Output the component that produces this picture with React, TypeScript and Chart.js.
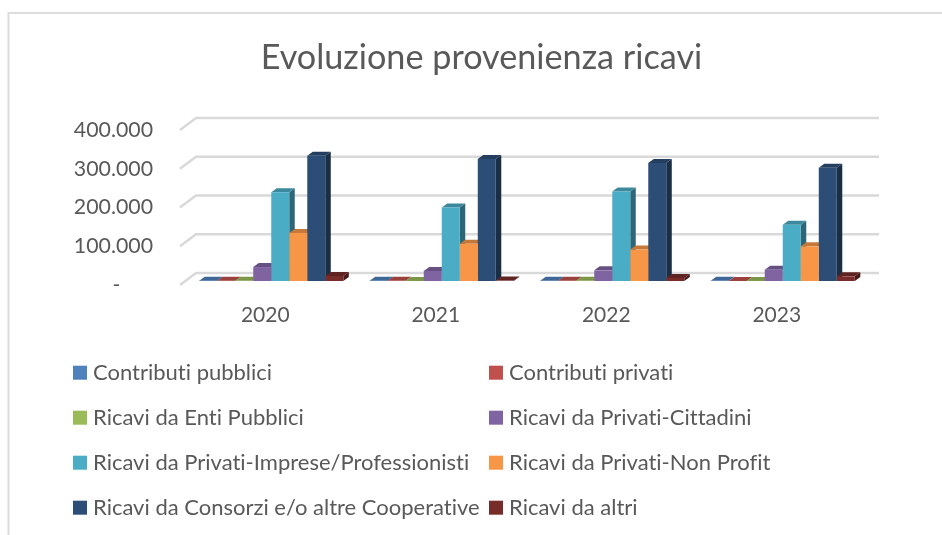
import React, { useEffect, useRef } from "react";
import { Chart, registerables } from "chart.js";

Chart.register(...registerables);

const years = ["2020", "2021", "2022", "2023"];
const contributiPubblici = [800, 800, 600, 500];
const contributiPrivati = [500, 400, 400, 300];
const entiPubblici = [400, 300, 400, 300];
const privatiCittadini = [36000, 26000, 27500, 29000];
const privatiImprese = [229000, 190000, 231000, 145500];
const privatiNonProfit = [124000, 96000, 81000, 89500];
const consorzi = [323000, 315000, 304500, 292500];
const altri = [13000, 1000, 8000, 12000];

const seriesNames = [
  "Contributi pubblici",
  "Contributi privati",
  "Ricavi da Enti Pubblici",
  "Ricavi da Privati-Cittadini",
  "Ricavi da Privati-Imprese/Professionisti",
  "Ricavi da Privati-Non Profit",
  "Ricavi da Consorzi e/o altre Cooperative",
  "Ricavi da altri",
];
const seriesValues = [
  contributiPubblici,
  contributiPrivati,
  entiPubblici,
  privatiCittadini,
  privatiImprese,
  privatiNonProfit,
  consorzi,
  altri,
];
const frontColors = ["#4f81bd", "#c0504d", "#9bbb59", "#8064a2", "#4bacc6", "#f79646", "#2c4d75", "#772c2a"];
const topColors = ["#3f6797", "#9a403d", "#7c9647", "#665082", "#3c899e", "#c67838", "#233e5e", "#5f2322"];
const sideColors = ["#2f4d71", "#73302e", "#5d7035", "#4d3c61", "#2d6777", "#945a2a", "#1a2e46", "#471a19"];

const FONT = "Lato, 'Open Sans', sans-serif";
const TEXT = "#595959";
const GRID = "#d9d9d9";
const BAR_SHIFT_X = 6;
const BAR_SHIFT_Y = -4;
const DEPTH_X = 5.5;
const DEPTH_Y = 4;
const WALL_X = 16;
const WALL_Y = 12;

const frame3d = {
  id: "frame3d",
  beforeDraw(chart: any) {
    const { ctx, chartArea: a, scales } = chart;
    ctx.save();
    ctx.strokeStyle = "#dcdcdc";
    ctx.lineWidth = 2;
    ctx.beginPath();
    ctx.moveTo(8.5, 535);
    ctx.lineTo(8.5, 13);
    ctx.lineTo(942, 13);
    ctx.stroke();
    ctx.strokeStyle = GRID;
    ctx.lineWidth = 2.5;
    for (const t of scales.y.ticks) {
      const y = scales.y.getPixelForValue(t.value);
      ctx.beginPath();
      ctx.moveTo(a.left, y);
      ctx.lineTo(a.left + WALL_X, y - WALL_Y);
      ctx.lineTo(a.right + WALL_X + 1, y - WALL_Y);
      ctx.stroke();
    }
    ctx.restore();
  },
  beforeDatasetsDraw(chart: any) {
    const { ctx } = chart;
    ctx.save();
    ctx.translate(BAR_SHIFT_X, BAR_SHIFT_Y);
    const count = chart.data.labels.length;
    for (let i = 0; i < count; i++) {
      chart.data.datasets.forEach((_: any, d: number) => {
        const bar = chart.getDatasetMeta(d).data[i];
        const l = bar.x - bar.width / 2;
        const r = bar.x + bar.width / 2;
        const top = bar.y;
        const base = bar.base;
        ctx.fillStyle = sideColors[d];
        ctx.beginPath();
        ctx.moveTo(r, top);
        ctx.lineTo(r + DEPTH_X, top - DEPTH_Y);
        ctx.lineTo(r + DEPTH_X, base - DEPTH_Y);
        ctx.lineTo(r, base);
        ctx.closePath();
        ctx.fill();
        ctx.fillStyle = topColors[d];
        ctx.beginPath();
        ctx.moveTo(l, top);
        ctx.lineTo(l + DEPTH_X, top - DEPTH_Y);
        ctx.lineTo(r + DEPTH_X, top - DEPTH_Y);
        ctx.lineTo(r, top);
        ctx.closePath();
        ctx.fill();
      });
    }
  },
  afterDatasetsDraw(chart: any) {
    chart.ctx.restore();
  },
  afterLayout(chart: any) {
    if (chart.titleBlock) {
      chart.titleBlock.left = 21;
      chart.titleBlock.right = 942;
    }
  },
  afterDraw(chart: any) {
    const { ctx } = chart;
    ctx.save();
    ctx.font = `22px ${FONT}`;
    ctx.textRendering = "optimizeSpeed";
    ctx.textBaseline = "middle";
    ctx.textAlign = "left";
    chart.data.datasets.forEach((ds: any, d: number) => {
      const col = d % 2;
      const row = Math.floor(d / 2);
      const x = col === 0 ? 73 : 489;
      const y = 372.7 + row * 45;
      ctx.fillStyle = ds.backgroundColor;
      ctx.fillRect(x, y - 7, 14, 14);
      ctx.fillStyle = TEXT;
      ctx.fillText(ds.label, x + 20, y);
    });
    ctx.restore();
  },
};

export default function App() {
  const ref = useRef<HTMLCanvasElement>(null);
  useEffect(() => {
    const chart = new Chart(ref.current as HTMLCanvasElement, {
      type: "bar",
      data: {
        labels: years,
        datasets: seriesNames.map((label, d) => ({
          label,
          data: seriesValues[d],
          backgroundColor: frontColors[d],
          borderWidth: 0,
          barPercentage: 1,
          categoryPercentage: 0.845,
        })),
      },
      options: {
        animation: false,
        responsive: false,
        layout: { padding: { left: 0, right: 80, top: 0, bottom: 210 } },
        plugins: {
          legend: { display: false },
          tooltip: { enabled: false },
          title: {
            display: true,
            text: "Evoluzione provenienza ricavi",
            color: TEXT,
            font: { family: FONT, size: 34.2, weight: "normal" },
            padding: { top: 37, bottom: 52 },
          },
        },
        scales: {
          x: {
            grid: { display: false, drawTicks: false },
            border: { display: false },
            afterFit: (s: any) => {
              s.height = 40;
            },
            ticks: { color: TEXT, font: { family: FONT, size: 21 }, padding: 18, maxRotation: 0 },
          },
          y: {
            min: 0,
            max: 400000,
            grid: { display: false, drawTicks: false },
            border: { display: false },
            afterFit: (s: any) => {
              s.width = 180;
            },
            ticks: {
              stepSize: 100000,
              color: TEXT,
              font: { family: FONT, size: 21.3 },
              padding: 27,
              callback: (v: any) =>
                v === 0 ? "-      " : String(v).replace(/\B(?=(\d{3})+$)/g, "."),
            },
          },
        },
      },
      plugins: [frame3d],
    } as any);
    return () => chart.destroy();
  }, []);
  return (
    <div style={{ position: "fixed", left: 0, top: 0, width: 942, height: 535, background: "#fff" }}>
      <canvas ref={ref} width={942} height={535} style={{ display: "block" }} />
    </div>
  );
}
